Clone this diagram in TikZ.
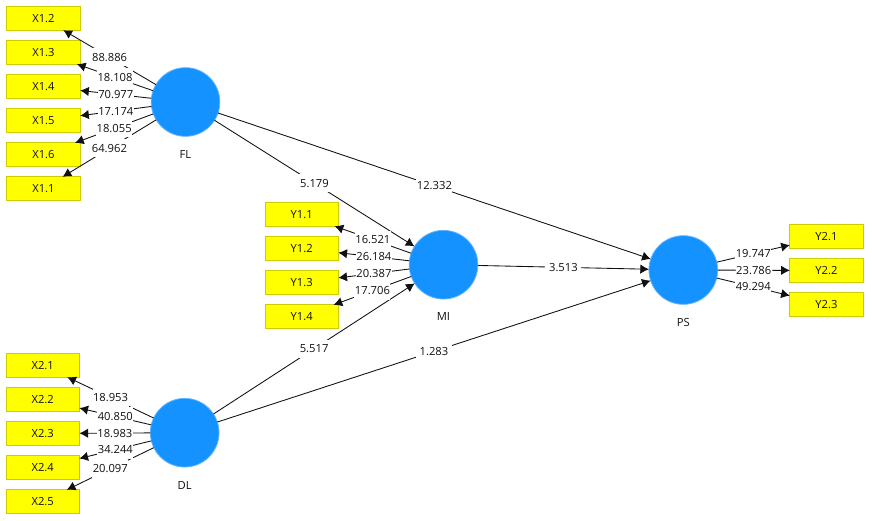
\documentclass[tikz,border=0pt]{standalone}
\usepackage{fontspec}
\setmainfont{Open Sans}
\usetikzlibrary{arrows.meta}
\definecolor{itembox}{HTML}{FFFF00}
\definecolor{itemline}{HTML}{CCCC00}
\definecolor{latent}{HTML}{1492FF}
\definecolor{latentline}{HTML}{62B5FF}
\definecolor{ink}{HTML}{111111}
\tikzset
{
  item/.style={draw=itemline,fill=itembox,line width=0.75pt,minimum width=55pt,minimum height=17.5pt,inner sep=0pt,outer sep=0pt,font=\fontsize{8.4}{10}\selectfont,text=ink},
  construct/.style={circle,draw=latentline,fill=latent,line width=0.6pt,minimum size=51.5pt,inner sep=0pt,outer sep=0pt},
  title/.style={font=\fontsize{8.4}{10}\selectfont,text=ink,inner sep=0pt},
  conn/.style={ink,line width=0.65pt,-{Latex[length=6.5pt,width=7pt]}},
  weight/.style={fill=white,font=\fontsize{8.4}{10}\selectfont,text=ink,inner sep=0pt,minimum width=27pt,minimum height=13.5pt},
}
\newcommand\edgelist
{
  FL/X12/88.886,FL/X13/18.108,FL/X14/70.977,FL/X15/17.174,FL/X16/18.055,FL/X11/64.962,
  DL/X21/18.953,DL/X22/40.850,DL/X23/18.983,DL/X24/34.244,DL/X25/20.097,
  MI/Y11/16.521,MI/Y12/26.184,MI/Y13/20.387,MI/Y14/17.706,
  PS/Y21/19.747,PS/Y22/23.786,PS/Y23/49.294,
  FL/MI/5.179,FL/PS/12.332,DL/MI/5.517,DL/PS/1.283,MI/PS/3.513%
}

\begin{document}
\begin{tikzpicture}[x=0.75pt,y=-0.75pt]
\useasboundingbox (0,0) rectangle (872,521);
% indicator boxes
\foreach\name/\txt/\i/\j in {X12/X1.2/43.5/18.5,X13/X1.3/43.5/52.5,X14/X1.4/43.5/86.5,X15/X1.5/43.5/120.5,X16/X1.6/43.5/154.5,X11/X1.1/43.5/188.5,
  X21/X2.1/42.7/365.5,X22/X2.2/42.7/399.5,X23/X2.3/42.7/433.5,X24/X2.4/42.7/467.5,X25/X2.5/42.7/501.5,
  Y11/Y1.1/301.7/214.5,Y12/Y1.2/301.7/248.5,Y13/Y1.3/301.7/282.5,Y14/Y1.4/301.7/316.5,
  Y21/Y2.1/826.5/236.5,Y22/Y2.2/826.5/270.5,Y23/Y2.3/826.5/304.5}
{
  \node[item] (\name) at (\i,\j) {\txt};
}
% constructs
\foreach\name/\i/\j/\k in {FL/185.5/102/154.5,DL/184.7/432.7/485.5,MI/443.5/264.7/316.5,PS/683.3/270/322}
{
  \node[construct] (\name) at (\i,\j) {};
  \node[title] (\name t) at (\i,\k) {\name};
}
% lines first, so that every value sits on top of all of them
\foreach\a/\b/\v in \edgelist
{
  \draw[conn] (\a) -- (\b);
}
\foreach\a/\b/\v in \edgelist
{
  \path (\a) -- (\b) node[weight,midway] (w\a\b) {\v};
}
\end{tikzpicture}
\end{document}
